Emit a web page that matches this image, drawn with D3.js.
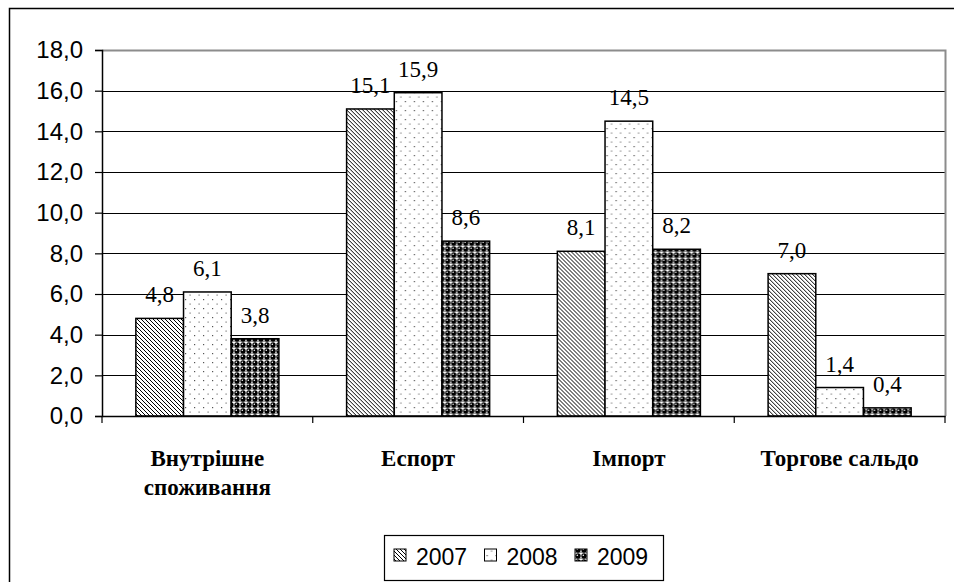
<!DOCTYPE html>
<html>
<head>
<meta charset="utf-8">
<script src="https://cdn.jsdelivr.net/npm/d3@7"></script>
<style>
  body { margin: 0; background: #fff; }
  svg { display: block; }
</style>
</head>
<body>
<div id="chart"></div>
<script>
// data
const categories = ["Внутрішне споживання", "Еспорт", "Імпорт", "Торгове сальдо"];
const categoryLines = [["Внутрішне", "споживання"], ["Еспорт"], ["Імпорт"], ["Торгове сальдо"]];
const years = ["2007", "2008", "2009"];
const values2007 = [4.8, 15.1, 8.1, 7.0];
const values2008 = [6.1, 15.9, 14.5, 1.4];
const values2009 = [3.8, 8.6, 8.2, 0.4];
const yTicks = [0, 2, 4, 6, 8, 10, 12, 14, 16, 18];

const seriesValues = [values2007, values2008, values2009];

const widthSvg = 954, heightSvg = 582;
const plotLeft = 102, plotRight = 945, plotTop = 50, plotBottom = 416;

const svg = d3.select("#chart").append("svg")
    .attr("width", widthSvg).attr("height", heightSvg);

// patterns (hatch, dots, spheres)
const defs = svg.append("defs");

const p1 = defs.append("pattern").attr("id", "pat2007")
    .attr("patternUnits", "userSpaceOnUse").attr("width", 4).attr("height", 4);
p1.append("rect").attr("width", 4).attr("height", 4).attr("fill", "#fff");
p1.append("path").attr("d", "M-1,-1 L5,5 M-1,3 L1,5 M3,-1 L5,1")
    .attr("stroke", "#000").attr("stroke-width", 1);

const p2 = defs.append("pattern").attr("id", "pat2008")
    .attr("patternUnits", "userSpaceOnUse").attr("width", 9).attr("height", 9);
p2.append("rect").attr("width", 9).attr("height", 9).attr("fill", "#fff");
p2.append("rect").attr("x", 2).attr("y", 2).attr("width", 1.2).attr("height", 1.2).attr("fill", "#555");
p2.append("rect").attr("x", 6.5).attr("y", 6.5).attr("width", 1.2).attr("height", 1.2).attr("fill", "#777");

const p3 = defs.append("pattern").attr("id", "pat2009")
    .attr("patternUnits", "userSpaceOnUse").attr("width", 6).attr("height", 6);
p3.append("rect").attr("width", 6).attr("height", 6).attr("fill", "#fff");
p3.append("circle").attr("cx", 3).attr("cy", 3).attr("r", 2.7).attr("fill", "#000");
p3.append("circle").attr("cx", 2.3).attr("cy", 2.3).attr("r", 0.8).attr("fill", "#fff");
p3.append("rect").attr("x", 0).attr("y", 5.6).attr("width", 6).attr("height", 0.4).attr("fill", "#000");

const fills = ["url(#pat2007)", "url(#pat2008)", "url(#pat2009)"];

// outer frame (goes past the right and bottom edge)
svg.append("rect")
    .attr("x", 9.5).attr("y", 8.5)
    .attr("width", 1000).attr("height", 700)
    .attr("fill", "none").attr("stroke", "#000").attr("stroke-width", 1.5);

// scales
const x0 = d3.scaleBand().domain(categories).range([plotLeft, plotRight]).padding(0);
const x1 = d3.scaleBand().domain(years).range([0, x0.bandwidth()])
    .paddingInner(0).paddingOuter(0.71);
const y = d3.scaleLinear().domain([0, 18]).range([plotBottom, plotTop]);

// grid
svg.append("g")
    .selectAll("line")
    .data(yTicks.filter(t => t > 0 && t < 18))
    .enter()
    .append("line")
    .attr("x1", plotLeft).attr("x2", plotRight)
    .attr("y1", d => Math.round(y(d)) + 0.5).attr("y2", d => Math.round(y(d)) + 0.5)
    .attr("stroke", "#000").attr("stroke-width", 1);

// plot area border, top + right in grey
svg.append("path")
    .attr("d", `M${plotLeft},${y(18) + 0.5} H${plotRight + 0.5} V${plotBottom}`)
    .attr("fill", "none").attr("stroke", "#8c8c8c").attr("stroke-width", 2);

// bars
const groups = svg.append("g")
    .selectAll("g")
    .data(categories)
    .enter()
    .append("g")
    .attr("transform", d => `translate(${x0(d)},0)`);

groups.selectAll("rect")
    .data((d, i) => years.map((yr, s) => ({ yr: yr, s: s, v: seriesValues[s][i] })))
    .enter()
    .append("rect")
    .attr("x", d => x1(d.yr))
    .attr("y", d => y(d.v))
    .attr("width", x1.bandwidth())
    .attr("height", d => y(0) - y(d.v))
    .attr("fill", d => fills[d.s])
    .attr("stroke", "#000")
    .attr("stroke-width", 1.5);

// value labels
groups.selectAll("text")
    .data((d, i) => years.map((yr, s) => ({ yr: yr, s: s, v: seriesValues[s][i] })))
    .enter()
    .append("text")
    .attr("x", d => x1(d.yr) + x1.bandwidth() / 2)
    .attr("y", d => y(d.v) - 16)
    .attr("text-anchor", "middle")
    .attr("font-family", "Liberation Serif, Times New Roman, serif")
    .attr("font-size", 23)
    .text(d => d.v.toFixed(1).replace(".", ","));

// y axis
const yAxis = d3.axisLeft(y)
    .tickValues(yTicks)
    .tickSize(7)
    .tickPadding(12)
    .tickFormat(d => d.toFixed(1).replace(".", ","));

svg.append("g")
    .attr("transform", `translate(${plotLeft},0)`)
    .call(yAxis)
    .call(g => g.select(".domain").attr("stroke", "#000").attr("stroke-width", 1.5))
    .call(g => g.selectAll(".tick line").attr("stroke", "#000").attr("stroke-width", 1.2))
    .call(g => g.selectAll("text")
        .attr("font-family", "Arial, Liberation Sans, sans-serif")
        .attr("font-size", 24)
        .attr("fill", "#000"));

// x axis
const xAxis = d3.axisBottom(x0).tickSize(0).tickFormat("");
svg.append("g")
    .attr("transform", `translate(0,${plotBottom})`)
    .call(xAxis)
    .call(g => g.select(".domain").attr("stroke", "#000").attr("stroke-width", 1.5));

// category boundary ticks
const boundaries = categories.map(c => x0(c)).concat([plotRight]);
svg.append("g")
    .selectAll("line")
    .data(boundaries)
    .enter()
    .append("line")
    .attr("x1", d => d).attr("x2", d => d)
    .attr("y1", plotBottom).attr("y2", plotBottom + 7)
    .attr("stroke", "#000").attr("stroke-width", 1.2);

// category labels
svg.append("g")
    .selectAll("text")
    .data(categories)
    .enter()
    .append("text")
    .attr("text-anchor", "middle")
    .attr("font-family", "Liberation Serif, Times New Roman, serif")
    .attr("font-weight", "bold")
    .attr("font-size", 23)
    .each(function (d, i) {
        const t = d3.select(this);
        categoryLines[i].forEach((line, k) => {
            t.append("tspan")
                .attr("x", x0(d) + x0.bandwidth() / 2)
                .attr("y", 466 + k * 29)
                .text(line);
        });
    });

// legend
const legend = svg.append("g").attr("transform", "translate(384,535)");
legend.append("rect")
    .attr("x", 0.5).attr("y", 0.5)
    .attr("width", 279).attr("height", 45)
    .attr("fill", "#fff").attr("stroke", "#000").attr("stroke-width", 1.2);

const legendItems = legend.selectAll(".item")
    .data(years)
    .enter()
    .append("g")
    .attr("class", "item")
    .attr("transform", (d, i) => `translate(${10 + i * 90.5},0)`);

legendItems.append("rect")
    .attr("x", 0).attr("y", 14)
    .attr("width", 12).attr("height", 12)
    .attr("fill", (d, i) => fills[i])
    .attr("stroke", "#000").attr("stroke-width", 1);

legendItems.append("text")
    .attr("x", 22).attr("y", 30)
    .attr("font-family", "Arial, Liberation Sans, sans-serif")
    .attr("font-size", 23)
    .text(d => d);
</script>
</body>
</html>
